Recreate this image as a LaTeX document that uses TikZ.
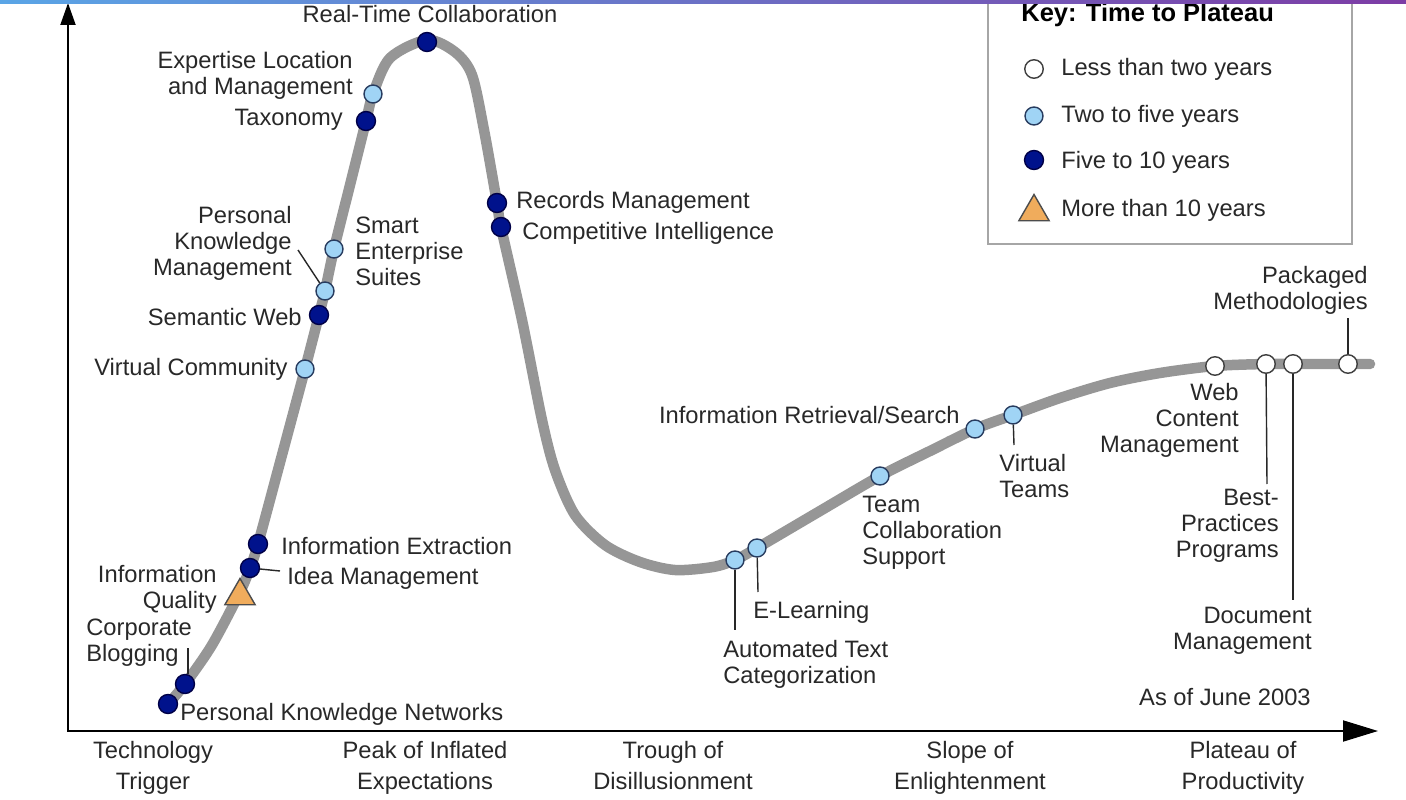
\documentclass[tikz,border=0pt]{standalone}
\usepackage{fontspec}
\setmainfont{Liberation Sans}
\usepackage{xcolor}
\usetikzlibrary{positioning,arrows.meta,shapes.geometric}

\definecolor{hypegray}{RGB}{150,150,150}
\definecolor{navydot}{RGB}{0,18,140}
\definecolor{navyrim}{RGB}{0,0,70}
\definecolor{skydot}{RGB}{160,212,245}
\definecolor{skyrim}{RGB}{40,60,95}
\definecolor{orangetri}{RGB}{240,172,92}
\definecolor{labelgray}{RGB}{40,40,40}
\definecolor{barblue}{RGB}{90,165,230}
\definecolor{barpurple}{RGB}{125,60,165}

\newcommand{\lblfont}{\fontsize{13.5}{14.8}\selectfont}

\begin{document}
\begin{tikzpicture}[
  x=0.02cm, y=-0.02cm,
  every node/.style={font=\lblfont, text=labelgray, inner sep=0pt},
  hype/.style={draw=hypegray, line width=0.21cm, line cap=round, line join=round},
  dot_few/.style={circle, draw=black!75, fill=white, line width=0.8pt, minimum size=0.37cm},
  dot_mid/.style={circle, draw=skyrim, fill=skydot, line width=0.8pt, minimum size=0.36cm},
  dot_long/.style={circle, draw=navyrim, fill=navydot, line width=0.8pt, minimum size=0.38cm},
  dot_tri/.style={regular polygon, regular polygon sides=3, draw=black!70, fill=orangetri, line width=0.8pt, minimum size=0.7cm},
  leader/.style={draw=labelgray, line width=0.8pt},
  axis/.style={draw=black, line width=1.1pt},
  phase/.style={align=center, anchor=north, font=\fontsize{13.5}{17.6}\selectfont}
]
\useasboundingbox (0,0) rectangle (1406,800);
\def\xO{68}
\def\yO{731}

% --- Axes ---
\coordinate (origin) at (\xO,\yO);
\coordinate (yTop) at (\xO,3);
\coordinate (xEnd) at (1378,\yO);
\draw[axis, {Triangle[length=0.44cm, width=0.3cm]}-{Triangle[length=0.7cm, width=0.42cm]}] (yTop) -- (origin) -- (xEnd);

% --- Hype curve ---
\draw[hype] plot[smooth, tension=0.5] coordinates {
  (168,704) (185,684) (212,645) (240,592) (250,568) (258,544) (282,455)
  (305,369) (319,315) (325,291) (334,249) (350,185) (366,121) (373,94)
  (390,58) (427,40) (455,52) (472,75) (484,130) (497,203) (501,227)
  (522,320) (542,420) (555,470) (575,515) (605,545) (640,562) (675,570)
  (713,567) (735,560) (757,548) (820,511) (880,476) (930,451) (975,429)
  (1013,415) (1060,398) (1110,383) (1160,373) (1215,366) (1266,364)
  (1293,364) (1348,364) (1370,364)};

% --- Leader ends ---
\coordinate (cbEnd) at (188,648);
\coordinate (idmEnd) at (280,571);
\coordinate (pkmEnd) at (298,250);
\coordinate (atcEnd) at (735,630);
\coordinate (elEnd) at (758,592);
\coordinate (vtEnd) at (1014,445);
\coordinate (bppEnd) at (1267,484);
\coordinate (dmEnd) at (1293,600);
\coordinate (pmEnd) at (1348,318);

% --- Technologies ---
\node[dot_long] (pkn) at (168,704) {};
\node[dot_long] (cb) at (185,684) {};
\node[dot_tri] (iq) at (240,596) {};
\node[dot_long] (idm) at (250,568) {};
\node[dot_long] (ie) at (258,544) {};
\node[dot_mid] (vc) at (305,369) {};
\node[dot_long] (sw) at (319,315) {};
\node[dot_mid] (pkm) at (325,291) {};
\node[dot_mid] (ses) at (334,249) {};
\node[dot_long] (tax) at (366,121) {};
\node[dot_mid] (elm) at (373,94) {};
\node[dot_long] (rtc) at (427,42) {};
\node[dot_long] (rm) at (497,203) {};
\node[dot_long] (ci) at (501,227) {};
\node[dot_mid] (atc) at (735,560) {};
\node[dot_mid] (el) at (757,548) {};
\node[dot_mid] (tcs) at (880,476) {};
\node[dot_mid] (irs) at (975,429) {};
\node[dot_mid] (vt) at (1013,415) {};
\node[dot_few] (wcm) at (1215,366) {};
\node[dot_few] (bpp) at (1266,364) {};
\node[dot_few] (dm) at (1293,364) {};
\node[dot_few] (pm) at (1348,364) {};

\draw[leader] (cbEnd |- cb.north) -- (cbEnd);
\draw[leader] (idm) -- (idmEnd);
\draw[leader] (pkm) -- (pkmEnd);
\draw[leader] (atc) -- (atcEnd);
\draw[leader] (el) -- (elEnd);
\draw[leader] (vt) -- (vtEnd);
\draw[leader] (bpp) -- (bppEnd);
\draw[leader] (dm) -- (dmEnd);
\draw[leader] (pm) -- (pmEnd);

% --- Labels ---
\node[anchor=west] (pknL) at (180,714) {Personal Knowledge Networks};
\node[anchor=west, align=left] (cbL) at (86,643) {Corporate\\Blogging};
\node[anchor=east, align=right] (iqL) at (217,589) {Information\\Quality};
\node[anchor=west] (idmL) at (287,578) {Idea Management};
\node[anchor=west] (ieL) at (281,546) {Information Extraction};
\node[anchor=east] (vcL) at (288,369) {Virtual Community};
\node[anchor=east] (swL) at (302,317) {Semantic Web};
\node[anchor=east, align=right] (pkmL) at (292,243) {Personal\\Knowledge\\Management};
\node[anchor=west, align=left] (sesL) at (355,251) {Smart\\Enterprise\\Suites};
\node[anchor=east] (taxL) at (343,120) {Taxonomy};
\node[anchor=east, align=right] (elmL) at (353,75) {Expertise Location\\and Management};
\node (rtcL) at (430,14) {Real-Time Collaboration};
\node[anchor=west] (rmL) at (516,202) {Records Management};
\node[anchor=west] (ciL) at (522,233) {Competitive Intelligence};
\node[anchor=west, align=left] (atcL) at (723,664) {Automated Text\\Categorization};
\node[anchor=west] (elL) at (753,612) {E-Learning};
\node[anchor=west, align=left] (tcsL) at (862,533) {Team\\Collaboration\\Support};
\node[anchor=east] (irsL) at (960,415) {Information Retrieval/Search};
\node[anchor=west, align=left] (vtL) at (999,476) {Virtual\\Teams};
\node[anchor=east, align=right] (wcmL) at (1239,420) {Web\\Content\\Management};
\node[anchor=east, align=right] (bppL) at (1279,526) {Best-\\Practices\\Programs};
\node[anchor=east, align=right] (dmL) at (1312,631) {Document\\Management};
\node[anchor=east, align=right] (pmL) at (1368,290) {Packaged\\Methodologies};
\node[anchor=east] (asofL) at (1311,697) {As of June 2003};

% --- Phases ---
\node[phase] (ttL) at (153,741) {Technology\\Trigger};
\node[phase] (pieL) at (425,741) {Peak of Inflated\\Expectations};
\node[phase] (tdL) at (673,741) {Trough of\\Disillusionment};
\node[phase] (seL) at (970,741) {Slope of\\Enlightenment};
\node[phase] (ppL) at (1243,741) {Plateau of\\Productivity};

% --- Key ---
\draw[draw=black!35, line width=1pt, fill=white] (988,0) rectangle (1352,244);
\node[anchor=west, font=\fontsize{14.5}{16}\selectfont\bfseries, text=black] (keyT) at (1021,15) {Key: Time to Plateau};
\node[dot_few] (kFew) at (1034,69) {};
\node[dot_mid] (kMid) at (1034,116) {};
\node[dot_long] (kLong) at (1034,160) {};
\node[dot_tri] (kTri) at (1034,212) {};
\node[anchor=west] (kFewL) at (1061,69) {Less than two years};
\node[anchor=west] (kMidL) at (1061,116) {Two to five years};
\node[anchor=west] (kLongL) at (1061,162) {Five to 10 years};
\node[anchor=west] (kTriL) at (1061,210) {More than 10 years};

% --- Top strip (over the key frame) ---
\shade[left color=barblue, right color=barpurple] (0,0) rectangle (1406,4);
\end{tikzpicture}
\end{document}
